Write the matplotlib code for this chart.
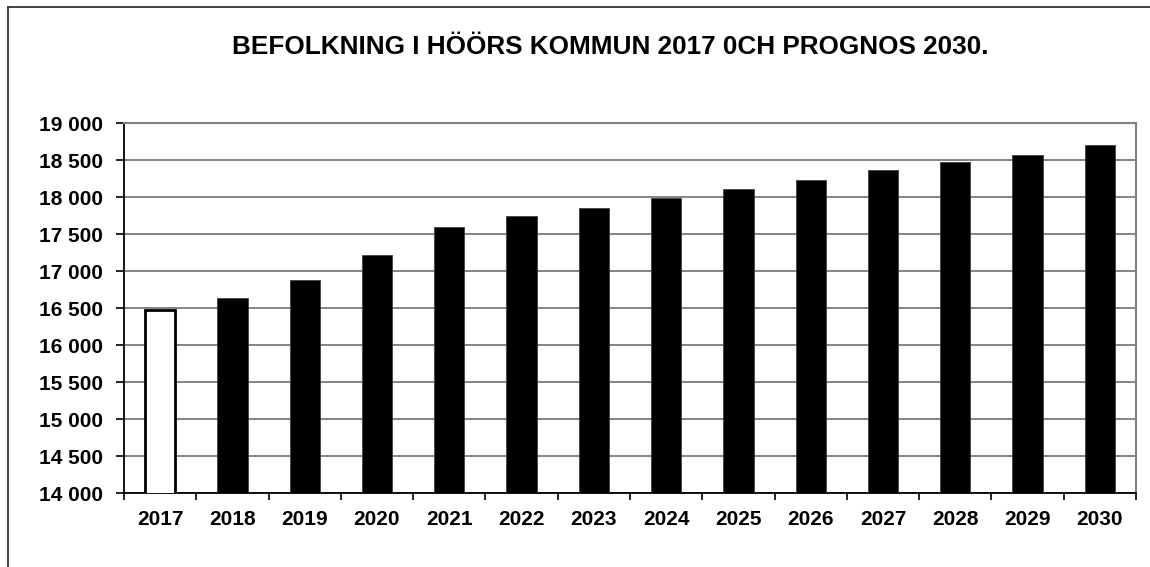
import matplotlib.pyplot as plt
from matplotlib.lines import Line2D
from matplotlib.ticker import FuncFormatter

# Population in Höör municipality, 2017 actual and forecast to 2030
years = ['2017', '2018', '2019', '2020', '2021', '2022', '2023',
         '2024', '2025', '2026', '2027', '2028', '2029', '2030']
population = [16482, 16635, 16882, 17220, 17595, 17743, 17861,
              17996, 18112, 18239, 18374, 18473, 18577, 18707]

plt.rcParams['font.family'] = ['Liberation Sans', 'DejaVu Sans']

W, H = 1150, 567
fig = plt.figure(figsize=(W / 100, H / 100), dpi=100)
ax = fig.add_axes([124 / W, 1 - 493.3 / H, (1136 - 124) / W, (493.3 - 123.3) / H])

x = list(range(len(years)))
face = ['white'] + ['black'] * (len(years) - 1)
edge = ['black'] + ['#404040'] * (len(years) - 1)
lw = [2.0] + [0.6] * (len(years) - 1)
ax.bar(x, population, width=0.42, color=face, edgecolor=edge, linewidth=lw,
       bottom=0, zorder=3)

ax.set_ylim(14000, 19000)
ax.set_xlim(-0.5, len(years) - 0.5)
ax.set_yticks(range(14000, 19001, 500))
ax.yaxis.set_major_formatter(FuncFormatter(lambda v, p: f'{int(v):,}'.replace(',', ' ')))
ax.grid(axis='y', color='#707070', linewidth=1.2, zorder=1)

# categories centred, ticks at the boundaries
ax.set_xticks(x)
ax.set_xticklabels(years)
ax.set_xticks([i - 0.5 for i in range(len(years) + 1)], minor=True)
ax.tick_params(axis='x', which='major', length=0, pad=12, labelsize=15)
ax.tick_params(axis='x', which='minor', length=5, width=1.2, direction='out', color='black')
ax.tick_params(axis='y', length=6, width=1.2, pad=9, labelsize=15, color='black')
for lab in ax.get_xticklabels() + ax.get_yticklabels():
    lab.set_fontweight('bold')

ax.spines['left'].set_color('black')
ax.spines['bottom'].set_color('black')
ax.spines['left'].set_linewidth(1.3)
ax.spines['bottom'].set_linewidth(1.3)
ax.spines['top'].set_color('#808080')
ax.spines['right'].set_color('#808080')
ax.spines['top'].set_linewidth(1.5)
ax.spines['right'].set_linewidth(1.5)

fig.text(610 / W, 1 - 47 / H, 'BEFOLKNING I HÖÖRS KOMMUN 2017 0CH PROGNOS 2030.',
         ha='center', va='center', fontsize=18.8, fontweight='bold')

# outer chart frame (only top and left visible)
fig.add_artist(Line2D([8 / W, 1], [1 - 7 / H, 1 - 7 / H], color='#333333', linewidth=1.3))
fig.add_artist(Line2D([8 / W, 8 / W], [0, 1 - 7 / H], color='#333333', linewidth=1.3))

fig.savefig('out.png', dpi=100)
